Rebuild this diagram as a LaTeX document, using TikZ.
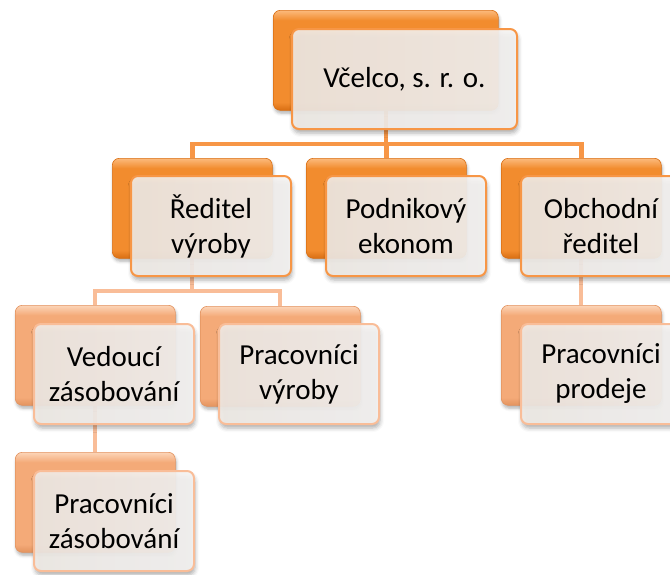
\documentclass[tikz,border=0pt]{standalone}
\usepackage{fontspec}
\setmainfont{Carlito}
\usetikzlibrary{shadows.blur}
\definecolor{org}{HTML}{F79646}
\definecolor{orgM}{HTML}{F28C2E}
\definecolor{orgT}{HTML}{FCBA7C}
\definecolor{orgB}{HTML}{D96E12}
\definecolor{pchM}{HTML}{F4AA78}
\definecolor{pchT}{HTML}{FCD5B8}
\definecolor{pchB}{HTML}{E3935F}
\definecolor{pline}{HTML}{F9BD98}
\definecolor{frL}{HTML}{F2ECE7}
\definecolor{frR}{HTML}{F6F5F4}
\pgfdeclareverticalshading{orgsh}{100bp}{color(0bp)=(orgB); color(25bp)=(orgB); color(29bp)=(orgM); color(70bp)=(orgM); color(75bp)=(orgT); color(100bp)=(orgT)}
\pgfdeclareverticalshading{pchsh}{100bp}{color(0bp)=(pchB); color(25bp)=(pchB); color(29bp)=(pchM); color(70bp)=(pchM); color(75bp)=(pchT); color(100bp)=(pchT)}
\pgfdeclarelayer{background}
\pgfsetlayers{background,main}
\begin{document}
\begin{tikzpicture}[x=1pt,y=-1pt,
  backbox/.style={rounded corners=7pt, minimum width=160pt, minimum height=100pt, anchor=north west, inner sep=0pt,
    blur shadow={shadow xshift=1pt, shadow yshift=-3pt, shadow blur radius=3pt, shadow opacity=30}},
  backA/.style={backbox, shade, shading=orgsh, draw=orgB, line width=0.6pt},
  backB/.style={backbox, shade, shading=pchsh, draw=pchB, line width=0.6pt},
  frontbox/.style={rounded corners=7pt, minimum width=160pt, minimum height=100pt, anchor=north west, inner sep=2pt,
    left color=frL, right color=frR, fill opacity=0.9, text opacity=1, line width=2pt, align=center,
    font=\fontsize{29}{35}\selectfont, text=black,
    blur shadow={shadow xshift=1pt, shadow yshift=-4pt, shadow blur radius=4pt, shadow opacity=35}},
  frontA/.style={frontbox, draw=org},
  frontB/.style={frontbox, draw=pline},
  connA/.style={draw=org, line width=4.5pt},
  connB/.style={draw=pline, line width=4pt}
]
\useasboundingbox (0,0) rectangle (670,574);
\clip (0,0) rectangle (670,574);
% back boxes
\node[backA, minimum width=225pt] (rootb) at (273,10) {};
\node[backA] (r1b) at (112,158) {};
\node[backA] (r2b) at (306,158) {};
\node[backA] (r3b) at (501,158) {};
\node[backB] (v1b) at (15,305) {};
\node[backB] (v2b) at (200,306) {};
\node[backB] (p1b) at (501,305) {};
\node[backB] (z1b) at (15,452) {};
% front boxes
\node[frontA, minimum width=225pt] (rootf) at (291,28) {Včelco, s. r. o.};
\node[frontA] (r1f) at (130,175) {Ředitel\\výroby};
\node[frontA] (r2f) at (325,175) {Podnikový\\ekonom};
\node[frontA] (r3f) at (520,175) {Obchodní\\ředitel};
\node[frontB] (v1f) at (33,323) {Vedoucí\\zásobování};
\node[frontB] (v2f) at (218,323) {Pracovníci\\výroby};
\node[frontB] (p1f) at (520,323) {Pracovníci\\prodeje};
\node[frontB] (z1f) at (33,470) {Pracovníci\\zásobování};
% connectors
\begin{pgfonlayer}{background}
\coordinate (j0) at (386,144);
\coordinate (j1) at (192,291);
\draw[connA] (rootb.south) -- (rootb.south |- j0);
\draw[connA] (r1b.north) |- (j0) -| (r3b.north);
\draw[connA] (r2b.north) -- (r2b.north |- j0);
\draw[connB] (r1b.south) -- (r1b.south |- j1);
\draw[connB] (v1b.north) |- (j1) -| (v2b.north);
\draw[connB] (v1b.south) -- (z1b.north);
\draw[connB] (r3b.south) -- (p1b.north);
\end{pgfonlayer}
\end{tikzpicture}
\end{document}
